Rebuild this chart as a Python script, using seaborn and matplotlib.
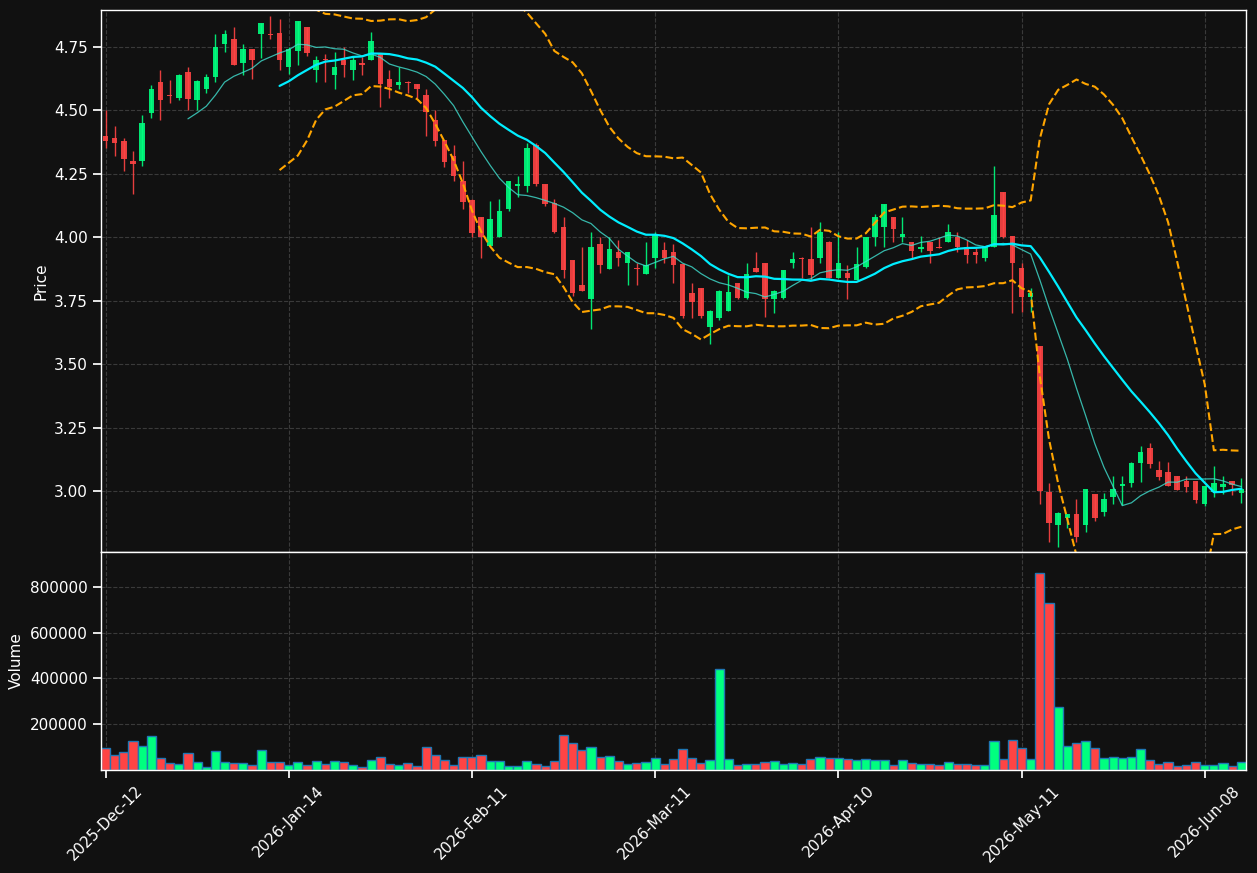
import numpy as np
import pandas as pd
import seaborn as sns
import matplotlib
matplotlib.use("Agg")
from matplotlib import pyplot as plt
from matplotlib.ticker import MultipleLocator

# daily OHLC
opens = [
    4.40, 4.39, 4.38, 4.30, 4.30, 4.49, 4.61, 4.56, 4.55, 4.65,
    4.54, 4.585, 4.63, 4.76, 4.78, 4.685, 4.74, 4.80, 4.802, 4.805,
    4.67, 4.735, 4.83, 4.66, 4.70, 4.64, 4.70, 4.66, 4.685, 4.70,
    4.725, 4.625, 4.60, 4.612, 4.605, 4.56, 4.46, 4.385, 4.32, 4.22,
    4.145, 4.08, 3.966, 4.00, 4.11, 4.20, 4.20, 4.365, 4.21, 4.135,
    4.04, 3.91, 3.81, 3.755, 3.975, 3.875, 3.94, 3.90, 3.877, 3.855,
    3.92, 3.95, 3.94, 3.895, 3.78, 3.80, 3.648, 3.68, 3.71, 3.82,
    3.76, 3.88, 3.90, 3.757, 3.76, 3.90, 3.92, 3.915, 3.92, 3.98,
    3.84, 3.86, 3.83, 3.884, 4.00, 4.04, 4.08, 4.00, 3.98, 3.955,
    3.98, 3.962, 3.98, 4.00, 3.96, 3.94, 3.92, 3.96, 4.18, 4.005,
    3.877, 3.766, 3.57, 2.995, 2.865, 2.893, 2.91, 2.865, 2.99, 2.918,
    2.975, 3.02, 3.03, 3.112, 3.17, 3.085, 3.076, 3.06, 3.04, 3.04,
    2.95, 2.998, 3.017, 3.04, 2.994,
]
highs = [
    4.50, 4.44, 4.39, 4.34, 4.48, 4.60, 4.66, 4.62, 4.645, 4.67,
    4.62, 4.645, 4.80, 4.815, 4.83, 4.76, 4.74, 4.845, 4.87, 4.86,
    4.75, 4.852, 4.83, 4.715, 4.72, 4.73, 4.75, 4.71, 4.71, 4.81,
    4.725, 4.66, 4.67, 4.614, 4.605, 4.585, 4.50, 4.385, 4.365, 4.30,
    4.15, 4.08, 4.143, 4.15, 4.22, 4.24, 4.37, 4.37, 4.21, 4.15,
    4.08, 3.91, 3.96, 4.02, 4.00, 4.00, 3.99, 3.94, 3.897, 3.983,
    4.02, 3.98, 3.974, 3.895, 3.82, 3.80, 3.714, 3.793, 3.85, 3.82,
    3.90, 3.94, 3.90, 3.793, 3.87, 3.94, 3.921, 4.04, 4.06, 3.985,
    4.022, 3.89, 3.963, 4.00, 4.092, 4.13, 4.08, 4.08, 3.98, 4.003,
    3.98, 4.00, 4.053, 4.02, 3.99, 3.957, 3.966, 4.28, 4.18, 4.005,
    3.90, 3.80, 3.573, 3.03, 2.916, 2.91, 2.97, 3.01, 2.99, 2.993,
    3.06, 3.06, 3.113, 3.177, 3.19, 3.117, 3.113, 3.06, 3.06, 3.04,
    3.02, 3.10, 3.06, 3.04, 3.05,
]
lows = [
    4.35, 4.32, 4.26, 4.17, 4.28, 4.47, 4.46, 4.53, 4.54, 4.50,
    4.50, 4.57, 4.61, 4.73, 4.68, 4.64, 4.625, 4.705, 4.78, 4.66,
    4.645, 4.68, 4.715, 4.61, 4.61, 4.585, 4.63, 4.62, 4.64, 4.70,
    4.515, 4.55, 4.585, 4.57, 4.55, 4.40, 4.36, 4.275, 4.22, 4.11,
    4.00, 3.92, 3.966, 4.00, 4.105, 4.16, 4.18, 4.20, 4.125, 4.015,
    3.84, 3.77, 3.79, 3.64, 3.86, 3.875, 3.885, 3.81, 3.81, 3.855,
    3.878, 3.90, 3.82, 3.68, 3.68, 3.68, 3.58, 3.672, 3.71, 3.758,
    3.758, 3.864, 3.687, 3.70, 3.758, 3.877, 3.84, 3.832, 3.90, 3.84,
    3.84, 3.756, 3.83, 3.88, 3.966, 3.96, 3.983, 3.983, 3.92, 3.94,
    3.90, 3.956, 3.98, 3.94, 3.90, 3.90, 3.906, 3.96, 3.998, 3.70,
    3.707, 3.707, 2.95, 2.80, 2.78, 2.853, 2.80, 2.837, 2.883, 2.90,
    2.95, 2.946, 3.017, 3.036, 3.092, 3.043, 3.02, 3.004, 2.995, 2.955,
    2.94, 2.975, 2.99, 2.985, 2.955,
]
closes = [
    4.38, 4.37, 4.31, 4.29, 4.45, 4.585, 4.54, 4.555, 4.64, 4.545,
    4.615, 4.63, 4.75, 4.80, 4.68, 4.74, 4.70, 4.845, 4.798, 4.70,
    4.74, 4.85, 4.725, 4.70, 4.698, 4.67, 4.68, 4.70, 4.68, 4.775,
    4.605, 4.59, 4.613, 4.608, 4.585, 4.495, 4.38, 4.295, 4.24, 4.14,
    4.015, 4.00, 4.07, 4.105, 4.22, 4.21, 4.35, 4.21, 4.13, 4.02,
    3.87, 3.78, 3.79, 3.96, 3.89, 3.955, 3.92, 3.94, 3.873, 3.89,
    4.01, 3.92, 3.89, 3.69, 3.745, 3.69, 3.71, 3.79, 3.785, 3.76,
    3.855, 3.865, 3.757, 3.79, 3.87, 3.915, 3.915, 3.85, 4.02, 3.84,
    3.90, 3.84, 3.893, 4.00, 4.08, 4.13, 4.033, 4.013, 3.946, 3.96,
    3.947, 3.958, 4.02, 3.96, 3.93, 3.93, 3.965, 4.087, 4.00, 3.90,
    3.766, 3.78, 3.00, 2.873, 2.915, 2.91, 2.82, 3.01, 2.895, 2.968,
    3.01, 3.027, 3.11, 3.153, 3.105, 3.057, 3.02, 3.005, 3.015, 2.965,
    3.02, 3.033, 3.028, 3.025, 3.008,
]
volumes = [
    95700, 65000, 78000, 126000, 104000, 148000, 52000, 30000, 26000, 74000,
    35000, 13000, 83000, 35000, 30000, 30000, 22000, 87000, 35000, 35000,
    22000, 35000, 22000, 39000, 26000, 39000, 35000, 22000, 13000, 43000,
    57000, 26000, 22000, 30000, 17000, 100000, 65000, 43000, 22000, 57000,
    57000, 65000, 39000, 39000, 17000, 17000, 39000, 26000, 17000, 39000,
    152000, 117000, 87000, 100000, 57000, 61000, 39000, 26000, 30000, 35000,
    52000, 26000, 48000, 91000, 52000, 30000, 43000, 439000, 48000, 22000,
    26000, 26000, 35000, 39000, 26000, 30000, 26000, 48000, 57000, 52000,
    52000, 48000, 43000, 48000, 43000, 43000, 22000, 43000, 30000, 26000,
    26000, 22000, 35000, 26000, 26000, 22000, 22000, 126000, 48000, 130000,
    96000, 48000, 861000, 730000, 274000, 104000, 117000, 126000, 96000, 52000,
    57000, 52000, 57000, 91000, 43000, 26000, 35000, 17000, 22000, 35000,
    22000, 22000, 30000, 17000, 35000,
]
start_date = "2025-12-12"
market_holidays = ["2025-12-25", "2025-12-26", "2026-01-01",
                   "2026-04-03", "2026-04-06", "2026-05-01"]

BG = "#111111"
UP = "#00ff7f"
DOWN = "#ff4444"

df = pd.DataFrame({"open": opens, "high": highs, "low": lows,
                   "close": closes, "volume": volumes})
df["date"] = pd.bdate_range(start=start_date, periods=len(df), freq="C",
                            holidays=market_holidays)
df["idx"] = np.arange(len(df))
df["dir"] = np.where(df["close"] >= df["open"], "up", "down")
df["sma10"] = df["close"].rolling(10).mean()
df["sma20"] = df["close"].rolling(20).mean()
std20 = df["close"].rolling(20).std()
df["upper"] = df["sma20"] + 2 * std20
df["lower"] = df["sma20"] - 2 * std20

sns.set_theme(
    style="darkgrid",
    rc={
        "figure.facecolor": BG,
        "axes.facecolor": BG,
        "axes.edgecolor": "white",
        "axes.linewidth": 1.0,
        "axes.labelcolor": "white",
        "grid.color": "#3a3a3a",
        "grid.linestyle": "--",
        "grid.linewidth": 0.8,
        "xtick.color": "white",
        "ytick.color": "white",
        "xtick.bottom": True,
        "ytick.left": True,
        "font.size": 11,
        "axes.labelsize": 11,
        "xtick.labelsize": 11,
        "ytick.labelsize": 11,
    },
)
plt.rcParams["font.family"] = ["DejaVu Sans"]

fig = plt.figure(figsize=(12.57, 8.73), dpi=100)
gs = fig.add_gridspec(2, 1, height_ratios=[542, 218], hspace=0,
                      left=0.0803, right=0.9912, top=0.9885, bottom=0.118)
ax1 = fig.add_subplot(gs[0])
ax2 = fig.add_subplot(gs[1], sharex=ax1)

# candles
colors = [UP if d == "up" else DOWN for d in df["dir"]]
body_low = np.minimum(df["open"], df["close"])
body_h = (df["close"] - df["open"]).abs().clip(lower=0.003)
ax1.vlines(df["idx"], df["low"], df["high"], colors=colors, linewidth=1, alpha=0.9)
ax1.bar(df["idx"], body_h, bottom=body_low, width=0.6, color=colors,
        alpha=0.9, linewidth=0)

# moving averages and bands
sns.lineplot(data=df, x="idx", y="sma10", ax=ax1, color="#40e0d0", linewidth=0.9, alpha=0.8)
sns.lineplot(data=df, x="idx", y="sma20", ax=ax1, color="#00eeff", linewidth=1.6)
sns.lineplot(data=df, x="idx", y="upper", ax=ax1, color="orange", linewidth=1.5, linestyle="--")
sns.lineplot(data=df, x="idx", y="lower", ax=ax1, color="orange", linewidth=1.5, linestyle="--")

ax1.set_ylim(2.76, 4.895)
ax1.yaxis.set_major_locator(MultipleLocator(0.25))
ax1.set_ylabel("Price")
ax1.set_xlabel("")
ax1.tick_params(axis="x", labelbottom=False, length=0)

# volume
sns.barplot(data=df, x="idx", y="volume", hue="dir", palette={"up": UP, "down": DOWN},
            native_scale=True, dodge=False, width=1.0, saturation=1,
            edgecolor="#1f77b4", linewidth=1, errorbar=None, legend=False, ax=ax2)
ax2.set_ylim(0, df["volume"].max() * 1.105)
ax2.set_yticks([200000, 400000, 600000, 800000])
ax2.ticklabel_format(axis="y", style="plain")
ax2.set_ylabel("Volume")
ax2.set_xlabel("")

ticks = df["idx"][::20]
ax2.set_xticks(ticks)
ax2.set_xticklabels(df["date"][::20].dt.strftime("%Y-%b-%d"), rotation=45)
ax2.set_xlim(-0.5, len(df) - 0.5)

for ax in (ax1, ax2):
    ax.grid(True, axis="both")
    for s in ax.spines.values():
        s.set_visible(True)
        s.set_color("white")

fig.savefig("out.png", dpi=100, facecolor=BG)
